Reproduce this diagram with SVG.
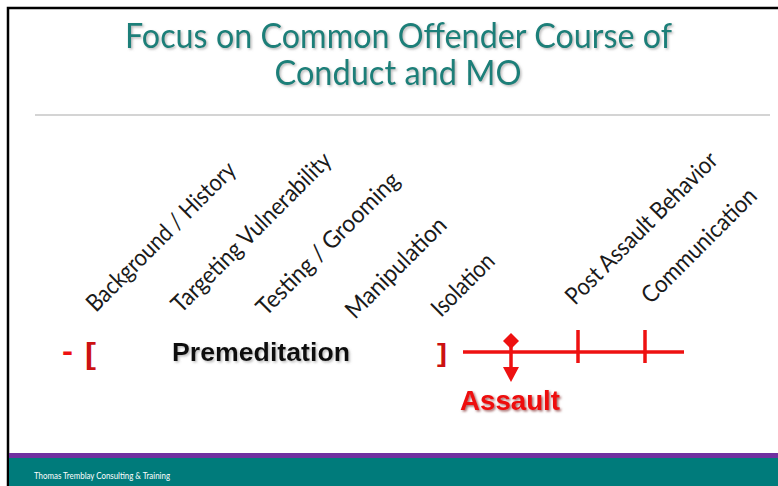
<svg xmlns="http://www.w3.org/2000/svg" width="778" height="486" viewBox="0 0 778 486">
  <defs>
    <style>
      .title { font-family: Lato, "Open Sans", sans-serif; font-size: 34px; fill: #1a7f79; text-anchor: middle; }
      .stage { font-family: Lato, "Open Sans", sans-serif; font-size: 24px; fill: #1a1a1a; }
      .red { stroke: #ee1111; stroke-width: 3.5; fill: none; }
      .bold { font-family: "Liberation Sans", Arial, sans-serif; font-weight: bold; }
    </style>
    <filter id="shadow" x="-10%" y="-30%" width="120%" height="160%">
      <feDropShadow dx="1.5" dy="1.5" stdDeviation="1" flood-color="#777" flood-opacity="0.5"/>
    </filter>
    <filter id="shadowRed" x="-10%" y="-30%" width="120%" height="160%">
      <feDropShadow dx="1.5" dy="1.5" stdDeviation="1" flood-color="#600" flood-opacity="0.6"/>
    </filter>
  </defs>
  <rect x="0" y="0" width="778" height="486" fill="#ffffff"/>
  <!-- frame -->
  <path d="M8 486 V8 H778" fill="none" stroke="#000" stroke-width="2.5"/>

  <!-- title -->
  <g id="title" filter="url(#shadow)">
    <text class="title" x="398.5" y="48" textLength="547" lengthAdjust="spacingAndGlyphs">Focus on Common Offender Course of</text>
    <text class="title" x="398" y="85" textLength="247" lengthAdjust="spacingAndGlyphs">Conduct and MO</text>
  </g>
  <line x1="35" y1="115" x2="770" y2="115" stroke="#d4d4d4" stroke-width="2"/>

  <!-- stage labels -->
  <g id="stage-background">
    <text class="stage" transform="translate(96,313) rotate(-45)" textLength="200" lengthAdjust="spacingAndGlyphs">Background / History</text>
  </g>
  <g id="stage-targeting">
    <text class="stage" transform="translate(181,314) rotate(-45)" textLength="215" lengthAdjust="spacingAndGlyphs">Targeting Vulnerability</text>
  </g>
  <g id="stage-testing">
    <text class="stage" transform="translate(266,317) rotate(-45)" textLength="191" lengthAdjust="spacingAndGlyphs">Testing / Grooming</text>
  </g>
  <g id="stage-manipulation">
    <text class="stage" transform="translate(355,320) rotate(-45)" textLength="132" lengthAdjust="spacingAndGlyphs">Manipulation</text>
  </g>
  <g id="stage-isolation">
    <text class="stage" transform="translate(441,318) rotate(-45)" textLength="78" lengthAdjust="spacingAndGlyphs">Isolation</text>
  </g>
  <g id="stage-post">
    <text class="stage" transform="translate(575,306) rotate(-45)" textLength="204" lengthAdjust="spacingAndGlyphs">Post Assault Behavior</text>
  </g>
  <g id="stage-communication">
    <text class="stage" transform="translate(651,305) rotate(-45)" textLength="152" lengthAdjust="spacingAndGlyphs">Communication</text>
  </g>

  <!-- premeditation bracket -->
  <g id="premeditation">
    <text class="bold" x="62" y="361" font-size="30" fill="#ee1111" textLength="11" lengthAdjust="spacingAndGlyphs">-</text>
    <text class="bold" x="85" y="364" font-size="30" fill="#cc1111" textLength="11" lengthAdjust="spacingAndGlyphs">[</text>
    <text class="bold" x="172" y="361" font-size="25" fill="#111" filter="url(#shadow)" textLength="178" lengthAdjust="spacingAndGlyphs">Premeditation</text>
    <text class="bold" x="437" y="362" font-size="26" fill="#cc1111" textLength="10" lengthAdjust="spacingAndGlyphs">]</text>
  </g>

  <!-- timeline connectors -->
  <g id="connectors">
    <line class="red" x1="463" y1="352" x2="684" y2="352"/>
    <line class="red" x1="578" y1="330" x2="578" y2="363"/>
    <line class="red" x1="645" y1="330" x2="645" y2="363"/>
    <line class="red" x1="511" y1="340" x2="511" y2="370"/>
    <polygon points="511,333 519,341 511,349 503,341" fill="#ee1111"/>
    <polygon points="503,367 519,367 511,382" fill="#ee1111"/>
  </g>

  <g id="assault">
    <text class="bold" x="460" y="410" font-size="28" fill="#ee1111" filter="url(#shadowRed)" textLength="100" lengthAdjust="spacingAndGlyphs">Assault</text>
  </g>

  <!-- footer -->
  <g id="footer">
    <rect x="9" y="453" width="769" height="5" fill="#7030a0"/>
    <rect x="9" y="458" width="769" height="28" fill="#007b7b"/>
    <text x="34" y="479" font-family="Lato, 'Open Sans', sans-serif" font-size="9" fill="#ffffff" textLength="136" lengthAdjust="spacingAndGlyphs">Thomas Tremblay Consulting &amp; Training</text>
  </g>
</svg>
